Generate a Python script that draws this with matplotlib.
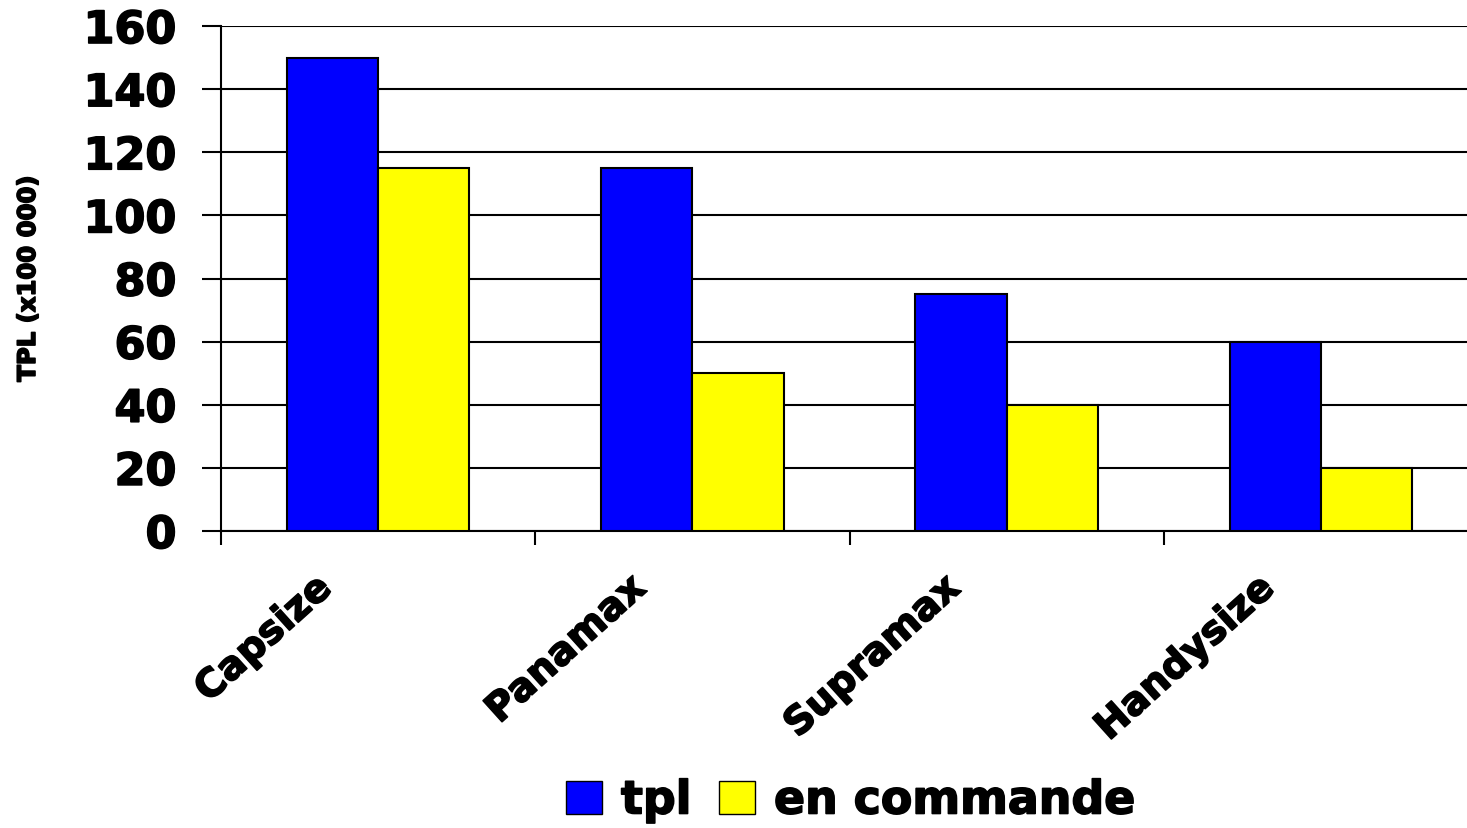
import numpy as np
import matplotlib.pyplot as plt
import matplotlib.transforms as mtransforms
import matplotlib.patheffects as pe
from matplotlib.patches import Patch

categories = ['Capsize', 'Panamax', 'Supramax', 'Handysize']
tpl = [150, 115, 75, 60]
en_commande = [115, 50, 40, 20]
yticks = [0, 20, 40, 60, 80, 100, 120, 140, 160]

plt.rcParams['font.family'] = ['DejaVu Sans']
plt.rcParams['font.weight'] = 'bold'

heavy = [pe.withStroke(linewidth=1.2, foreground='black')]

fig = plt.figure(figsize=(14.67, 8.29), dpi=100)
ax = fig.add_axes([221/1467, 1-532/829, (1478-221)/1467, (532-27)/829])

x = np.arange(len(categories)) + 0.5
w = 0.29
ax.bar(x - w/2, tpl, w, color='#0000ff', edgecolor='black', linewidth=1.5, zorder=3)
ax.bar(x + w/2, en_commande, w, color='#ffff00', edgecolor='black', linewidth=1.5, zorder=3)

ax.set_xlim(0, len(categories))
ax.set_ylim(0, 160)
ax.set_yticks(yticks)
ax.set_yticklabels([str(v) for v in yticks], fontsize=32, fontweight='bold')
ax.yaxis.grid(True, color='black', linewidth=1.5, zorder=0)

# category boundaries carry the tick marks, centres carry the labels
ax.set_xticks(np.arange(len(categories) + 1))
ax.set_xticklabels([])
ax.set_xticks(x, minor=True)
ax.set_xticklabels(categories, minor=True, rotation=42, ha='right',
                   rotation_mode='anchor', fontsize=28, fontweight='bold')
ax.tick_params(axis='x', which='minor', length=0, pad=27)
ax.tick_params(axis='x', which='major', length=10, width=1.5, direction='out')
ax.tick_params(axis='y', length=14, width=1.5, direction='out', pad=18)

shift = mtransforms.ScaledTranslation(-65/100, 0, fig.dpi_scale_trans)
for lab in ax.get_xticklabels(minor=True):
    lab.set_transform(lab.get_transform() + shift)
    lab.set_path_effects(heavy)
for lab in ax.get_yticklabels():
    lab.set_path_effects(heavy)

for s in ['top', 'right']:
    ax.spines[s].set_visible(False)
for s in ['left', 'bottom']:
    ax.spines[s].set_linewidth(1.5)

fig.text(28/1467, 1-280/829, 'TPL (x100 000)', rotation=90, fontsize=17.5,
         fontweight='bold', ha='center', va='center', path_effects=heavy)

handles = [Patch(facecolor='#0000ff', edgecolor='black', label='tpl'),
           Patch(facecolor='#ffff00', edgecolor='black', label='en commande')]
leg = fig.legend(handles=handles, loc='center', bbox_to_anchor=(851/1467, 1-802/829),
                 ncol=2, frameon=False, handlelength=0.78, handleheight=0.72,
                 handletextpad=0.42, columnspacing=0.6,
                 prop={'weight': 'bold', 'size': 33})
for t in leg.get_texts():
    t.set_path_effects(heavy)

fig.savefig('out.png', dpi=100)
